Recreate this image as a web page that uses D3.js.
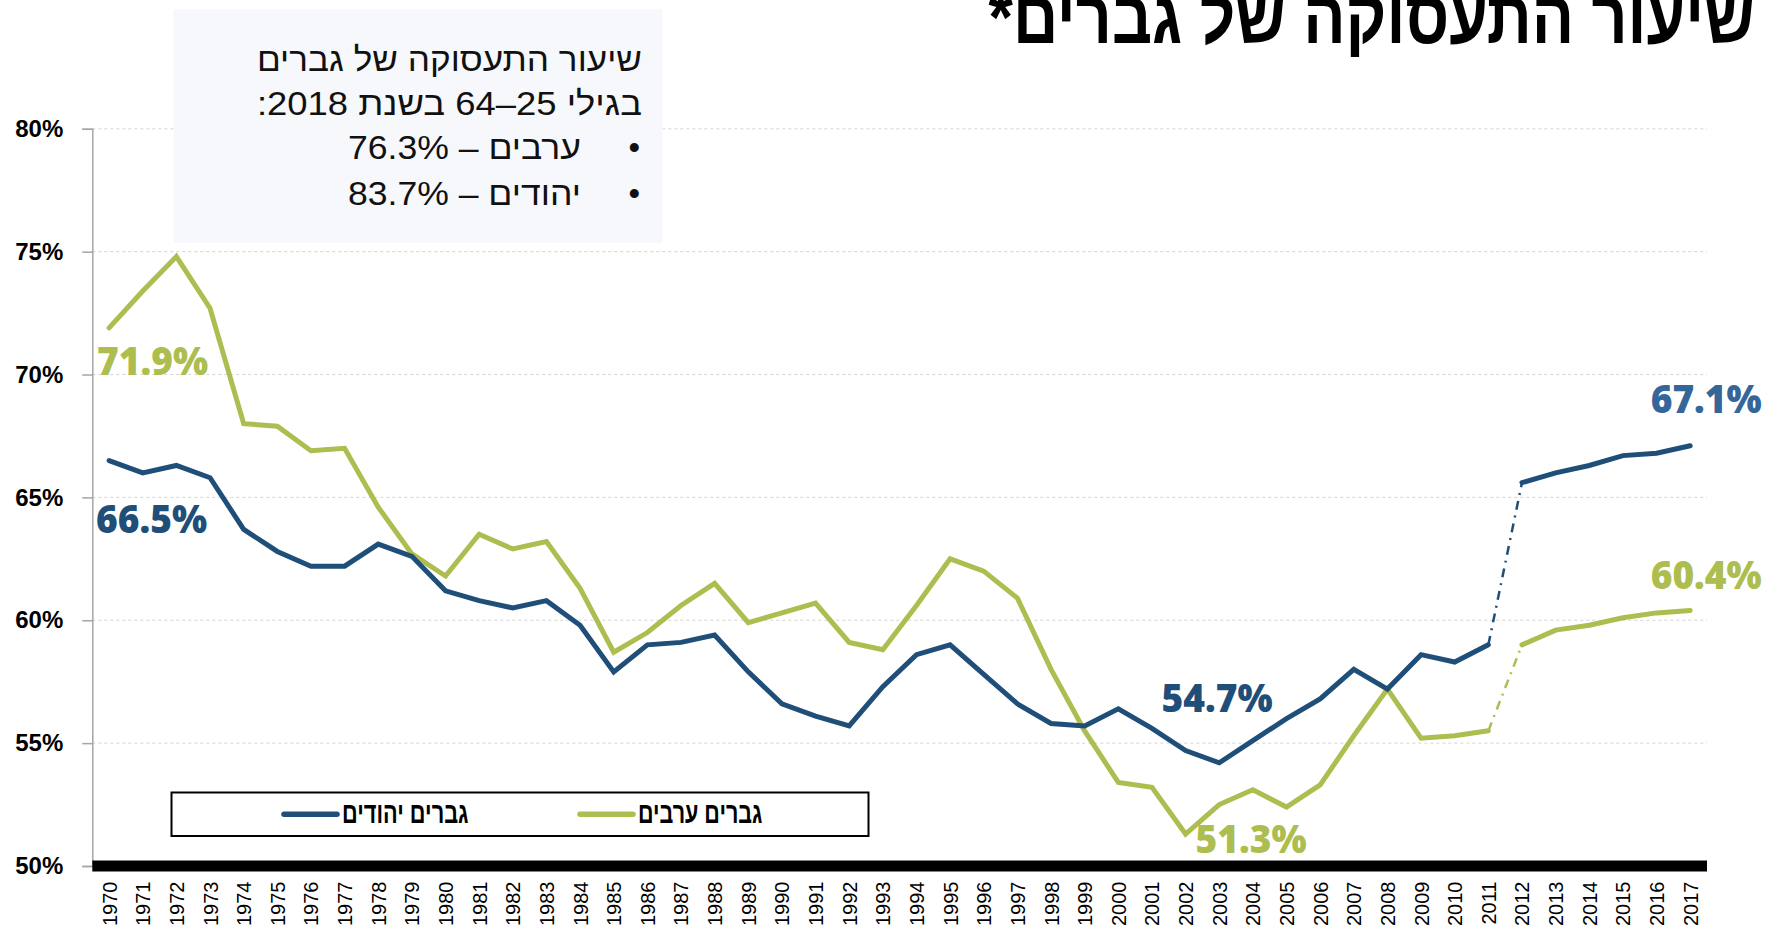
<!DOCTYPE html>
<html lang="he">
<head>
<meta charset="utf-8">
<title>שיעור התעסוקה של גברים</title>
<script src="https://d3js.org/d3.v7.min.js"></script>
<style>
  html, body { margin: 0; padding: 0; background: #fff; }
  svg { display: block; }
</style>
</head>
<body>
<div id="chart"></div>
<script>
// נתונים
const years = ["1970","1971","1972","1973","1974","1975","1976","1977","1978","1979",
  "1980","1981","1982","1983","1984","1985","1986","1987","1988","1989",
  "1990","1991","1992","1993","1994","1995","1996","1997","1998","1999",
  "2000","2001","2002","2003","2004","2005","2006","2007","2008","2009",
  "2010","2011","2012","2013","2014","2015","2016","2017"];

const jewishMen = [66.5,66.0,66.3,65.8,63.7,62.8,62.2,62.2,63.1,62.6,
  61.2,60.8,60.5,60.8,59.8,57.9,59.0,59.1,59.4,57.9,
  56.6,56.1,55.7,57.3,58.6,59.0,57.8,56.6,55.8,55.7,
  56.4,55.6,54.7,54.2,55.1,56.0,56.8,58.0,57.2,58.6,
  58.3,59.0,65.6,66.0,66.3,66.7,66.8,67.1];

const arabMen = [71.9,73.4,74.8,72.7,68.0,67.9,66.9,67.0,64.6,62.7,
  61.8,63.5,62.9,63.2,61.3,58.7,59.5,60.6,61.5,59.9,
  60.3,60.7,59.1,58.8,60.6,62.5,62.0,60.9,58.0,55.5,
  53.4,53.2,51.3,52.5,53.1,52.4,53.3,55.3,57.2,55.2,
  55.3,55.5,59.0,59.6,59.8,60.1,60.3,60.4];

// שבר בסדרה (קו מקווקו בין 2011 ל-2012)
const breakFrom = "2011";
const breakTo = "2012";

const yTicks = [50, 55, 60, 65, 70, 75, 80];

const seriesNames = ["גברים יהודים", "גברים ערבים"];
const titleText = "שיעור התעסוקה של גברים*";
const noteLines = ["שיעור התעסוקה של גברים", "בגילי 25–64 בשנת 2018:"];
const noteBullets = ["ערבים – 76.3%", "יהודים – 83.7%"];

const BLUE = "#1f4e79";
const GREEN = "#adbd4f";

const width = 1767, height = 927;
const margin = { top: 128.8, right: 60, bottom: 61, left: 92.3 };
const plotRight = 1707;

const svg = d3.select("#chart").append("svg")
  .attr("width", width)
  .attr("height", height)
  .attr("viewBox", `0 0 ${width} ${height}`);

const x = d3.scalePoint().domain(years).range([margin.left, plotRight]).padding(0.5);
const y = d3.scaleLinear().domain([50, 80]).range([height - margin.bottom, margin.top]);

// רשת
svg.append("g").attr("class", "grid")
  .selectAll("line").data(yTicks.filter(d => d > 50)).join("line")
  .attr("x1", margin.left).attr("x2", plotRight)
  .attr("y1", d => y(d)).attr("y2", d => y(d))
  .attr("stroke", "#d4d4d4").attr("stroke-width", 1)
  .attr("stroke-dasharray", "3,3");

// ציר Y
const yAxis = svg.append("g")
  .attr("transform", `translate(${margin.left},0)`)
  .call(d3.axisLeft(y).tickValues(yTicks).tickSize(10).tickPadding(30).tickFormat(d => d + "%"));
yAxis.select(".domain").attr("stroke", "#a6a6a6").attr("stroke-width", 1.5);
yAxis.selectAll(".tick line").attr("stroke", "#a6a6a6").attr("stroke-width", 1.5);
yAxis.selectAll(".tick text")
  .attr("x", -29)
  .attr("fill", "#000")
  .attr("font-family", "Liberation Sans, Arial, sans-serif")
  .attr("font-weight", "bold")
  .attr("font-size", "24px");

// ציר X
const xAxis = svg.append("g")
  .attr("transform", `translate(0,${y(50)})`)
  .call(d3.axisBottom(x).tickSize(0).tickSizeOuter(0));
xAxis.select(".domain").remove();
xAxis.insert("line", ":first-child")
  .attr("x1", margin.left).attr("x2", plotRight)
  .attr("y1", 0).attr("y2", 0)
  .attr("stroke", "#000").attr("stroke-width", 11);
xAxis.selectAll(".tick text")
  .attr("transform", "rotate(-90)")
  .attr("x", -15.5).attr("y", 0).attr("dy", "0.35em")
  .attr("text-anchor", "end")
  .attr("fill", "#000")
  .attr("font-family", "Liberation Sans, Arial, sans-serif")
  .attr("font-size", "20px");

// תיבת הערה
const note = svg.append("g");
note.append("rect")
  .attr("x", 173.6).attr("y", 9.3)
  .attr("width", 489).attr("height", 233.4)
  .attr("fill", "#f7f8fc");
const noteFont = "Liberation Sans, Arial, sans-serif";
note.selectAll("text.line").data(noteLines).join("text")
  .attr("class", "line")
  .attr("x", 642).attr("y", (d, i) => 70.7 + i * 44.3)
  .attr("direction", "rtl").attr("text-anchor", "start")
  .attr("font-family", noteFont).attr("font-size", "33px")
  .attr("textLength", 385).attr("lengthAdjust", "spacingAndGlyphs")
  .attr("fill", "#111")
  .text(d => d);
note.selectAll("text.bul").data(noteBullets).join("text")
  .attr("class", "bul")
  .attr("x", 581).attr("y", (d, i) => 159 + i * 46)
  .attr("direction", "rtl").attr("text-anchor", "start")
  .attr("font-family", noteFont).attr("font-size", "33px")
  .attr("textLength", 233).attr("lengthAdjust", "spacingAndGlyphs")
  .attr("fill", "#111")
  .text(d => d);
note.selectAll("text.dot").data(noteBullets).join("text")
  .attr("class", "dot")
  .attr("x", 640).attr("y", (d, i) => 159 + i * 46)
  .attr("text-anchor", "end")
  .attr("font-family", noteFont).attr("font-size", "33px")
  .attr("fill", "#111")
  .text("•");

// קווים
const idxBreak = years.indexOf(breakFrom);
const idxAfter = years.indexOf(breakTo);
const line = d3.line().x(d => x(d[0])).y(d => y(d[1]));

function drawSeries(values, color) {
  const pts = years.map((yr, i) => [yr, values[i]]);
  const g = svg.append("g");
  [pts.slice(0, idxBreak + 1), pts.slice(idxAfter)].forEach(seg => {
    g.append("path").datum(seg)
      .attr("d", line)
      .attr("fill", "none")
      .attr("stroke", color)
      .attr("stroke-width", 5)
      .attr("stroke-linecap", "round")
      .attr("stroke-linejoin", "miter");
  });
  g.append("path").datum([pts[idxBreak], pts[idxAfter]])
    .attr("d", line)
    .attr("fill", "none")
    .attr("stroke", color)
    .attr("stroke-width", 2.5)
    .attr("stroke-dasharray", "9,6,2,6");
}
drawSeries(arabMen, GREEN);
drawSeries(jewishMen, BLUE);

// תוויות ערכים
const labelFont = "Open Sans, Liberation Sans, sans-serif";
function valueLabel(values, yr, color, dx, dy) {
  const i = years.indexOf(yr);
  svg.append("text")
    .attr("x", x(yr) + dx)
    .attr("y", y(values[i]) + dy)
    .attr("fill", color)
    .attr("font-family", labelFont)
    .attr("font-weight", 800)
    .attr("font-size", "38px")
    .attr("textLength", 111).attr("lengthAdjust", "spacingAndGlyphs")
    .text(values[i].toFixed(1) + "%");
}
valueLabel(arabMen, "1970", GREEN, -12, 47);
valueLabel(jewishMen, "1970", BLUE, -13, 72.5);
valueLabel(jewishMen, "2002", BLUE, -24, -39);
valueLabel(arabMen, "2002", GREEN, 10, 19);
valueLabel(jewishMen, "2017", "#35669a", -39.5, -32.5);
valueLabel(arabMen, "2017", GREEN, -39.5, -21);

// מקרא
const legend = svg.append("g");
legend.append("rect")
  .attr("x", 171.5).attr("y", 792.5)
  .attr("width", 697).attr("height", 43.5)
  .attr("fill", "#fff").attr("stroke", "#000").attr("stroke-width", 2);
const legendItems = [
  { name: seriesNames[0], color: BLUE, x0: 284, x1: 337, tx: 468.5 },
  { name: seriesNames[1], color: GREEN, x0: 580, x1: 633, tx: 762.4 }
];
legendItems.forEach(it => {
  legend.append("line")
    .attr("x1", it.x0).attr("x2", it.x1)
    .attr("y1", 814.3).attr("y2", 814.3)
    .attr("stroke", it.color).attr("stroke-width", 5.5)
    .attr("stroke-linecap", "round");
  legend.append("text")
    .attr("x", it.tx).attr("y", 823)
    .attr("direction", "rtl").attr("text-anchor", "start")
    .attr("font-family", "Liberation Sans, Arial, sans-serif")
    .attr("font-weight", "bold").attr("font-size", "29px")
    .attr("textLength", it.tx - it.x1 - 5).attr("lengthAdjust", "spacingAndGlyphs")
    .attr("fill", "#000")
    .text(it.name);
});

// כותרת
svg.append("text")
  .attr("x", 1754.6).attr("y", 43.3)
  .attr("direction", "rtl").attr("text-anchor", "start")
  .attr("font-family", "Liberation Sans, Arial, sans-serif")
  .attr("font-weight", "bold").attr("font-size", "76px")
  .attr("textLength", 766).attr("lengthAdjust", "spacingAndGlyphs")
  .attr("fill", "#000")
  .text(titleText);
</script>
</body>
</html>
